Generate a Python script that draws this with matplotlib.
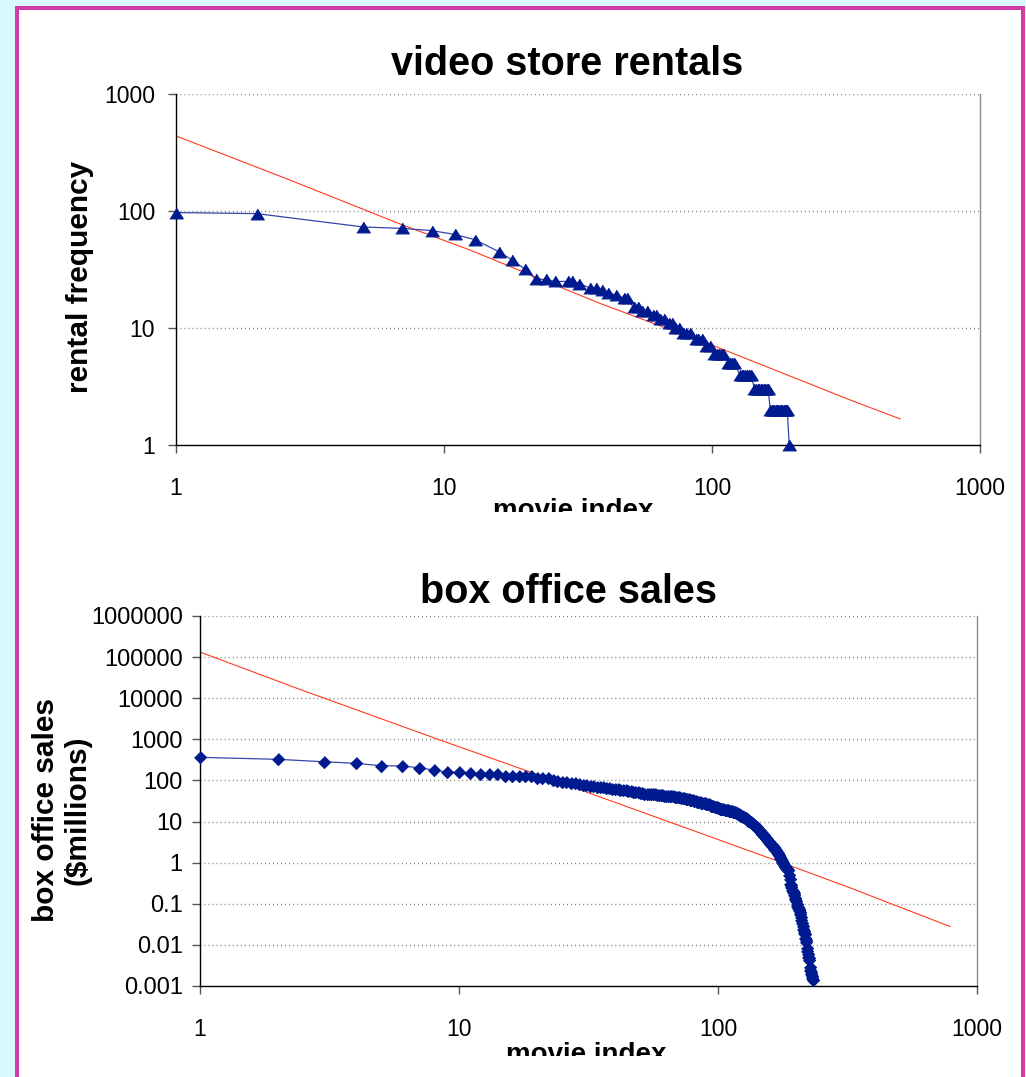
import matplotlib
matplotlib.use('Agg')
import matplotlib.pyplot as plt
from matplotlib.patches import Rectangle

W, H = 1026, 1077

# rentals per movie, movies ranked by popularity
rent_index = [1, 2, 5, 7, 9, 11, 13, 16, 18, 20, 22, 24, 26, 29, 30, 32, 35, 37, 39, 41,
              44, 47, 48, 51, 53, 55, 57, 60, 62, 64, 66, 69, 71, 73, 75, 78, 80, 83, 87, 89,
              92, 95, 98, 102, 104, 106, 108, 110, 115, 117, 119, 121, 127, 129, 131, 133, 135, 138, 140,
              144, 146, 148, 150, 152, 154, 156, 158, 160, 162,
              165, 167, 169, 171, 173, 175, 177, 179, 181, 183, 185, 187, 189, 191, 194]
rent_freq = [97, 95, 73, 71, 68, 63, 57, 45, 38, 32, 26, 26, 25, 25, 25, 24, 22, 22, 21, 20,
             19, 18, 18, 15, 15, 14, 14, 13, 13, 12, 12, 11, 11, 10, 10, 9, 9, 9, 8, 8,
             8, 7, 7, 6, 6, 6, 6, 6, 5, 5, 5, 5, 4, 4, 4, 4, 4, 4, 4,
             3, 3, 3, 3, 3, 3, 3, 3, 3, 3,
             2, 2, 2, 2, 2, 2, 2, 2, 2, 2, 2, 2, 2, 2, 1]
# power-law fit to the rentals
rent_fit_x = [1, 2.66, 7, 12.5, 38, 104, 327, 504]
rent_fit_y = [438, 184, 76, 46.4, 16.3, 6.9, 2.43, 1.67]

# box office gross ($ millions), movies ranked by gross
sales_index = list(range(1, 233))
sales_millions = [
    365, 326, 285, 261, 228, 225, 204, 179, 160, 158,
    155, 143, 142, 141, 130, 128, 127, 126, 125, 116,
    115, 112, 100, 95, 92, 90, 89, 88, 82, 78,
    76, 74, 72, 71, 70, 68, 66, 65, 63, 62,
    61, 60, 58, 57, 56, 55, 53, 52, 51, 50,
    49, 48, 48, 47, 47, 46, 46, 45, 45, 44,
    44, 43, 43, 42, 42, 41, 41, 40, 40, 39,
    39, 38, 38, 37, 36, 36, 35, 34, 34, 33,
    32, 31, 30.5, 30, 29.3, 29, 28.5, 28, 27.5, 27,
    26.5, 26, 25, 24.5, 24, 23.5, 23, 22.5, 22, 21.5,
    21, 20.7, 20.4, 20, 19.8, 19.5, 19.2, 19, 18.8, 18.5,
    18.2, 18, 17.8, 17.5, 17.3, 17, 16.5, 16, 15.5, 15,
    14.6, 14.2, 13.8, 13.4, 13.1, 12.7, 12.3, 11.9, 11.5, 11,
    10.6, 10.2, 9.9, 9.5, 9.2, 8.9, 8.7, 8.3, 7.9, 7.5,
    7.2, 6.9, 6.5, 6.2, 5.9, 5.6, 5.3, 5.0, 4.8, 4.7,
    4.4, 4.2, 4.0, 3.8, 3.6, 3.4, 3.2, 3.1, 2.9, 2.8,
    2.7, 2.6, 2.5, 2.35, 2.2, 2.1, 2.0, 1.9, 1.8, 1.7,
    1.6, 1.5, 1.4, 1.3, 1.2, 1.1, 1.05, 1.0, 0.96, 0.9,
    0.85, 0.8, 0.75, 0.72, 0.7, 0.68, 0.66, 0.5, 0.4, 0.31,
    0.28, 0.25, 0.22, 0.2, 0.19, 0.18, 0.16, 0.14, 0.13, 0.12,
    0.10, 0.09, 0.085, 0.08, 0.075, 0.07, 0.064, 0.055, 0.047, 0.04,
    0.034, 0.029, 0.025, 0.022, 0.02, 0.018, 0.015, 0.013, 0.012, 0.0082,
    0.007, 0.006, 0.005, 0.0048, 0.0043, 0.0029, 0.0025, 0.0022, 0.002, 0.0018,
    0.0016, 0.0014]
sales_fit_x = [1, 2.43, 8.45, 26.8, 173, 323, 787]
sales_fit_y = [133000, 16400, 962, 73, 1.05, 0.245, 0.028]

x_ticks = [1, 10, 100, 1000]
x_labels = ['1', '10', '100', '1000']
rent_yticks = [1, 10, 100, 1000]
rent_ylabels = ['1', '10', '100', '1000']
sales_yticks = [0.001, 0.01, 0.1, 1, 10, 100, 1000, 10000, 100000, 1000000]
sales_ylabels = ['0.001', '0.01', '0.1', '1', '10', '100', '1000', '10000', '100000', '1000000']

NAVY = '#001a8f'
LINE_BLUE = '#3445a8'
RED = '#ff3c1e'

plt.rcParams['font.family'] = ['Liberation Sans', 'DejaVu Sans']


def px_box(left, top, right, bottom):
    return [left / W, 1 - bottom / H, (right - left) / W, (bottom - top) / H]


def fx(px):
    return px / W


def fy(py):
    return 1 - py / H


def style_axes(ax, yticks, ylabels, ypad, ysize):
    ax.set_xscale('log')
    ax.set_yscale('log')
    ax.set_xlim(1, 1000)
    ax.set_ylim(yticks[0], yticks[-1])
    ax.set_xticks(x_ticks, x_labels)
    ax.set_yticks(yticks, ylabels)
    ax.minorticks_off()
    ax.tick_params(direction='out', length=6, width=1, color='#555555', labelcolor='black')
    ax.tick_params(axis='x', pad=17, labelsize=16.5)
    ax.tick_params(axis='y', pad=ypad, labelsize=ysize)
    ax.grid(axis='y', linestyle=(0, (0.7, 2.2)), color='#7a7a7a', linewidth=1.0)
    ax.grid(axis='x', visible=False)
    ax.set_axisbelow(True)
    ax.spines['top'].set_visible(False)
    ax.spines['right'].set_color('#8a8a8a')
    ax.spines['left'].set_color('black')
    ax.spines['bottom'].set_color('black')
    for s in ax.spines.values():
        s.set_linewidth(1.0)


fig = plt.figure(figsize=(W / 100, H / 100), dpi=100)
fig.patch.set_facecolor('#d8fafc')
fig.patches.append(Rectangle((fx(15), -0.05), fx(1025) - fx(15), fy(6) + 0.05,
                             transform=fig.transFigure, facecolor='#d63aa8', edgecolor='none', zorder=-2))
fig.patches.append(Rectangle((fx(19), -0.05), fx(1021) - fx(19), fy(10) + 0.05,
                             transform=fig.transFigure, facecolor='white', edgecolor='none', zorder=-1))

tri = [(-1, -0.8), (1, -0.8), (0, 0.8)]
diamond = [(0, 1), (1, 0), (0, -1), (-1, 0)]

# video store rentals
ax1 = fig.add_axes(px_box(176, 94, 980, 445))
ax1.patch.set_alpha(0)
style_axes(ax1, rent_yticks, rent_ylabels, 9, 16.5)
ax1.plot(rent_fit_x, rent_fit_y, color=RED, lw=0.8)
ax1.plot(rent_index, rent_freq, color=LINE_BLUE, lw=0.9, marker=tri, ms=13.5 * 0.72,
         mfc=NAVY, mec=NAVY, mew=0.8, clip_on=False, zorder=4)

# box office sales
ax2 = fig.add_axes(px_box(200, 616, 977, 986))
ax2.patch.set_alpha(0)
style_axes(ax2, sales_yticks, sales_ylabels, 6.5, 17)
ax2.plot(sales_fit_x, sales_fit_y, color=RED, lw=0.8)
ax2.plot(sales_index, sales_millions, color=LINE_BLUE, lw=0.9, marker=diamond, ms=12 * 0.72,
         mfc=NAVY, mec=NAVY, mew=0.8, clip_on=False, zorder=4)

bold = dict(fontweight='bold', color='black')
fig.text(fx(567), fy(75), 'video store rentals', fontsize=28.5, ha='center', va='baseline', **bold)
fig.text(fx(569), fy(603), 'box office sales', fontsize=28.5, ha='center', va='baseline', **bold)
fig.text(fx(80), fy(277), 'rental frequency', fontsize=21.5, rotation=90,
         ha='center', va='center', **bold)
fig.text(fx(62), fy(810), 'box office sales\n($millions)', fontsize=21.5, rotation=90,
         ha='center', va='center', linespacing=1.15, multialignment='center', **bold)
fig.text(fx(573), fy(518), 'movie index', fontsize=20, ha='center', va='baseline', **bold)
fig.text(fx(586), fy(1062), 'movie index', fontsize=20, ha='center', va='baseline', **bold)

# the axis titles are cut off along the bottom
fig.patches.append(Rectangle((fx(480), fy(545)), fx(680) - fx(480), fy(512) - fy(545),
                             transform=fig.transFigure, facecolor='white', edgecolor='none', zorder=10))
fig.patches.append(Rectangle((fx(480), -0.01), fx(700) - fx(480), fy(1056) + 0.01,
                             transform=fig.transFigure, facecolor='white', edgecolor='none', zorder=10))

fig.savefig('out.png', dpi=100, facecolor=fig.get_facecolor())
